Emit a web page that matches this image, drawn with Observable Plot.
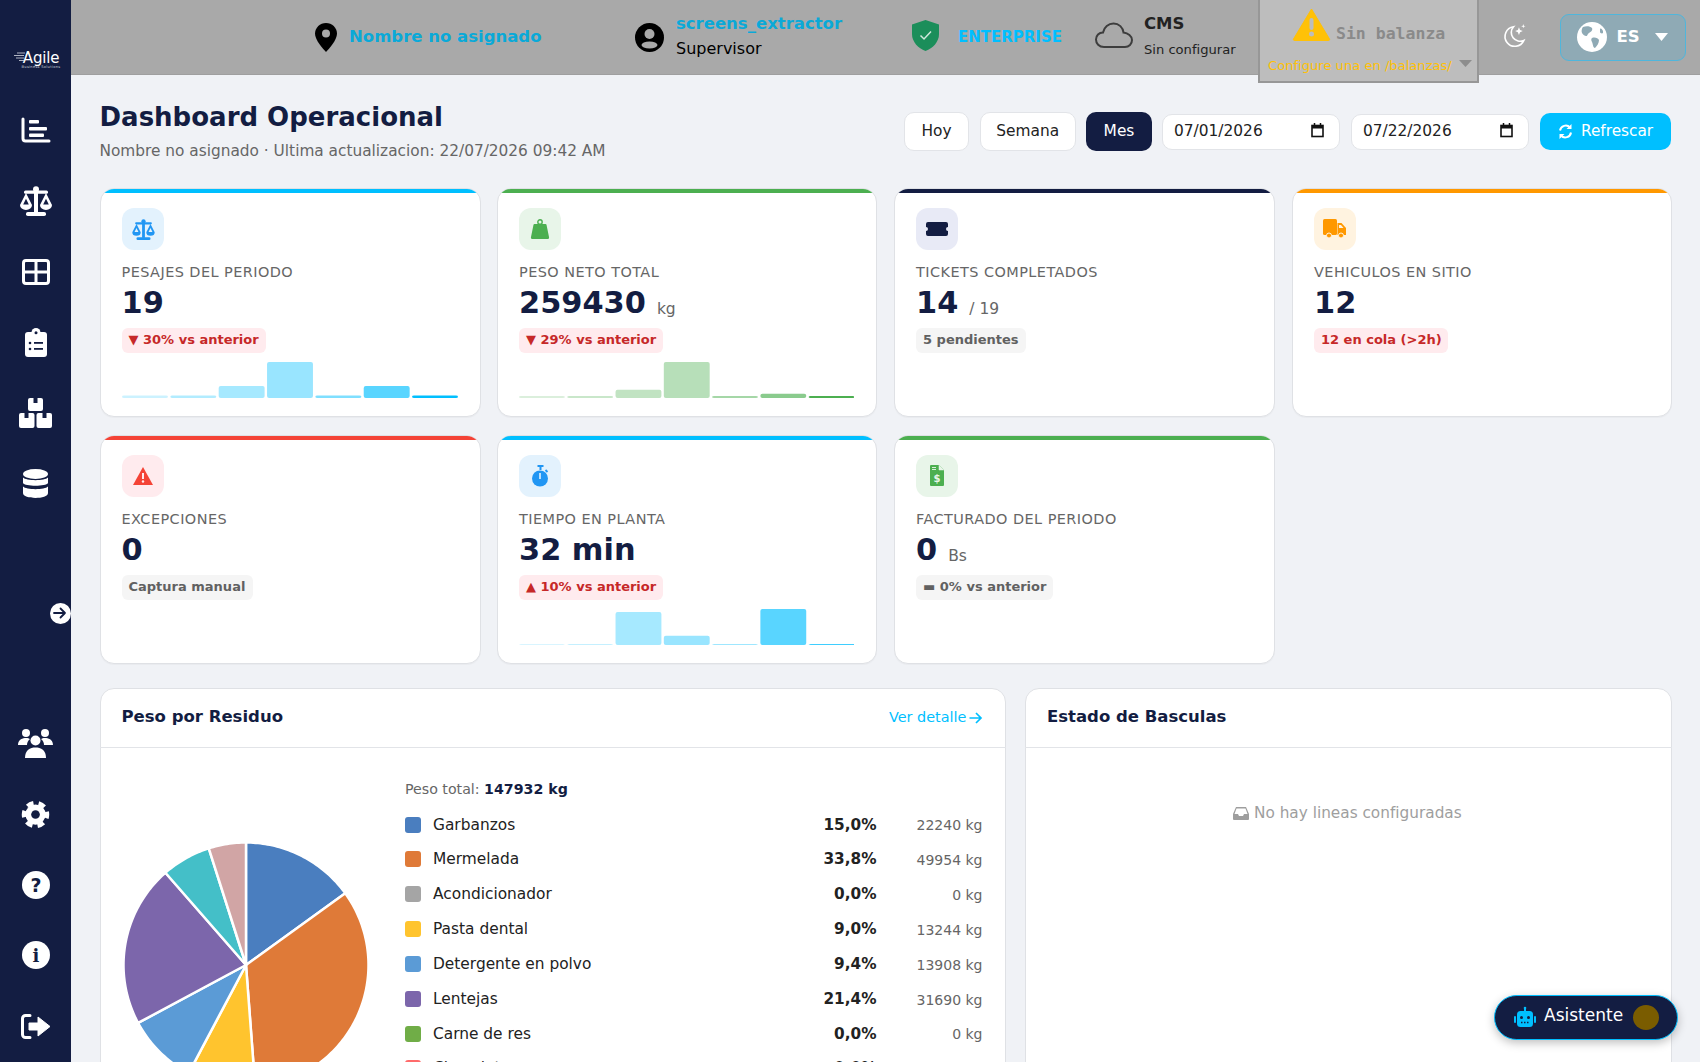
<!DOCTYPE html>
<html lang="es">
<head>
<meta charset="utf-8">
<title>Dashboard Operacional</title>
<script src="https://cdn.jsdelivr.net/npm/d3@7"></script>
<script src="https://cdn.jsdelivr.net/npm/@observablehq/plot@0.6"></script>
<style>
html,body{margin:0;padding:0;width:1700px;height:1062px;overflow:hidden;background:#f0f2f6;font-family:"DejaVu Sans",sans-serif;}
#app{position:relative;width:1700px;height:1062px;overflow:hidden;}
.box{position:absolute;box-sizing:border-box;}
.t{position:absolute;white-space:nowrap;line-height:1.2;transform:translateY(-50%);}
.t.r{transform:translate(-100%,-50%);}
.t.c{transform:translate(-50%,-50%);}
svg.i{position:absolute;overflow:visible;}
.chart{position:absolute;}
.chart svg{display:block;background:transparent;}
.card{position:absolute;box-sizing:border-box;background:#fff;border:1px solid #dfe1e5;border-radius:14px;overflow:hidden;box-shadow:0 1px 1px rgba(0,0,0,.03);}
.card .bar{position:absolute;left:0;right:0;top:0;height:4px;}
</style>
</head>
<body>
<div id="app"></div>
<script>
// ---------- data ----------
const residuos = ["Garbanzos","Mermelada","Acondicionador","Pasta dental","Detergente en polvo","Lentejas","Carne de res","Chocolate","Residuo 9","Residuo 10"];
const pesos = [22240,49954,0,13244,13908,31690,0,0,9630,7266];
const coloresResiduo = ["#4a7ebf","#df7a38","#a5a5a5","#ffc42e","#5b9bd6","#7c66ab","#70ad47","#ff6b6b","#44bfc8","#d1a5a5"];
const filasLeyenda = 8;
const pesoTotal = 147932;

const tarjetaTitulos = ["PESAJES DEL PERIODO","PESO NETO TOTAL","TICKETS COMPLETADOS","VEHICULOS EN SITIO","EXCEPCIONES","TIEMPO EN PLANTA","FACTURADO DEL PERIODO"];
const tarjetaValores = ["19","259430","14","12","0","32 min","0"];
const tarjetaUnidades = ["","kg","/ 19","","","","Bs"];
const tarjetaPills = ["▼ 30% vs anterior","▼ 29% vs anterior","5 pendientes","12 en cola (>2h)","Captura manual","▲ 10% vs anterior","▬ 0% vs anterior"];
const tarjetaPillTipo = ["bad","bad","neutral","bad","neutral","bad","neutral"];
const tarjetaColores = ["#00bfff","#4caf50","#131d42","#ff9800","#f44336","#00bfff","#4caf50"];
const tarjetaFondoIcono = ["#e3f2fd","#e8f5e9","#e8eaf6","#fff3e0","#ffebee","#e3f2fd","#e8f5e9"];
const tarjetaColorIcono = ["#2196f3","#4caf50","#131d42","#ff9800","#f44336","#2196f3","#4caf50"];

const sparkPesajes = [0.6,0.6,3,9,0.6,3,0.6];
const sparkPeso = [9000,9000,38000,165000,9000,20000,9000];
const sparkTiempo = [0.8,0.8,32,9,0.8,35,0.8];
const sparkOpacidad = [0.2,0.3,0.35,0.4,0.5,0.65,1];

// ---------- helpers ----------
const app = document.getElementById("app");
const NAVY = "#131d42";
function box(x,y,w,h,style){const d=document.createElement("div");d.className="box";d.style.cssText=`left:${x}px;top:${y}px;width:${w}px;height:${h}px;${style||""}`;app.appendChild(d);return d;}
function txt(s,x,cy,size,color,extra,cls){const d=document.createElement("div");d.className="t "+(cls||"");d.textContent=s;d.style.cssText=`left:${x}px;top:${cy}px;font-size:${size}px;color:${color};${extra||""}`;app.appendChild(d);return d;}
function ico(x,y,w,h,vb,markup){app.insertAdjacentHTML("beforeend",`<svg class="i" style="left:${x}px;top:${y}px" width="${w}" height="${h}" viewBox="${vb}">${markup}</svg>`);}

// icon drawings
const scaleIcon = (c,bg)=>`<rect x="14" y="2" width="4" height="25" fill="${c}"/><circle cx="16" cy="3.2" r="3" fill="${c}"/><rect x="4" y="4.5" width="24" height="3.2" rx="1.5" fill="${c}"/><rect x="6" y="26" width="20" height="4" rx="1.8" fill="${c}"/>
<path d="M0 19 L6 7 L12 19 A6 5 0 0 1 0 19Z M20 19 L26 7 L32 19 A6 5 0 0 1 20 19Z" fill="${c}"/><path d="M3.2 18.4 L6 12.8 L8.8 18.4Z M23.2 18.4 L26 12.8 L28.8 18.4Z" fill="${bg}"/>`;

// ---------- sidebar ----------
box(0,0,71,1062,`background:${NAVY};`);
txt("Agile",41,58,15,"#fff","transform:translate(-50%,-50%);letter-spacing:-.2px;");
txt("Business Solutions",41,67,3.6,"#c9cdd8","transform:translate(-50%,-50%);letter-spacing:.3px;");
ico(13,52,12,10,"0 0 12 10",`<path d="M4 1h8M1 3.5h10M3 6h8M6 8.5h5" stroke="#d8dbe5" stroke-width=".8"/>`);
ico(21,117,30,26,"0 0 30 26",`<path d="M2 2v19.5a2.5 2.5 0 0 0 2.5 2.5H28" fill="none" stroke="#fff" stroke-width="3" stroke-linecap="round"/><rect x="8" y="3" width="10" height="3.6" rx="1" fill="#fff"/><rect x="8" y="10" width="18" height="3.4" rx="1" fill="#fff"/><rect x="8" y="16.6" width="15" height="3.4" rx="1" fill="#fff"/>`);
ico(17.5,186,36,30,"0 0 32 30",scaleIcon("#fff",NAVY));
ico(22,259,28,26,"0 0 28 26",`<rect x="1.5" y="1.5" width="25" height="23" rx="2.5" fill="none" stroke="#fff" stroke-width="3"/><path d="M14 2v22M2 13h24" stroke="#fff" stroke-width="3"/>`);
ico(24.5,328,22,29,"0 0 22 29",`<rect x="0" y="4" width="22" height="25" rx="3" fill="#fff"/><circle cx="11" cy="4.5" r="4.5" fill="#fff"/><circle cx="11" cy="4.8" r="1.5" fill="${NAVY}"/><rect x="9" y="14" width="9" height="1.8" fill="${NAVY}"/><rect x="9" y="20" width="9" height="1.8" fill="${NAVY}"/><circle cx="5" cy="15" r="1.3" fill="${NAVY}"/><circle cx="5" cy="21" r="1.3" fill="${NAVY}"/>`);
ico(19,398,33,30,"0 0 33 30",`<rect x="9" y="0" width="15" height="13" rx="2" fill="#fff"/><rect x="0" y="15" width="15.5" height="15" rx="2" fill="#fff"/><rect x="17.5" y="15" width="15.5" height="15" rx="2" fill="#fff"/><rect x="14.5" y="0" width="4" height="5" fill="${NAVY}"/><rect x="5.5" y="15" width="4" height="5" fill="${NAVY}"/><rect x="23.5" y="15" width="4" height="5" fill="${NAVY}"/>`);
ico(23,469,25,29,"0 0 25 29",`<ellipse cx="12.5" cy="5" rx="12.5" ry="5" fill="#fff"/><path d="M0 8.5C3 12 22 12 25 8.5V14c-2 3.6-23 3.6-25 0Z" fill="#fff"/><path d="M0 17.5C3 21 22 21 25 17.5V24c0 6.6-25 6.6-25 0Z" fill="#fff"/>`);
box(49.5,602.5,21,21,"background:#fff;border-radius:50%;");
ico(53,606,14,14,"0 0 14 14",`<path d="M1 7h11M7.5 2.5 12 7l-4.5 4.5" fill="none" stroke="${NAVY}" stroke-width="1.8" stroke-linecap="round" stroke-linejoin="round"/>`);
ico(18,729,35,29,"0 0 35 29",`<circle cx="8" cy="4" r="4" fill="#fff"/><circle cx="27" cy="4" r="4" fill="#fff"/><path d="M0 16c0-6 5-7 8-7 2 0 3 .5 4 1-2 1.5-3 3.5-3 6Z M35 16c0-6-5-7-8-7-2 0-3 .5-4 1 2 1.5 3 3.5 3 6Z" fill="#fff"/><circle cx="17.5" cy="11.5" r="5" fill="#fff"/><path d="M7 29c0-8 5-10.5 10.5-10.5S28 21 28 29Z" fill="#fff"/>`);
ico(22,800,27,29,"-14 -15 28 30",`<circle r="10.5" fill="#fff"/><circle r="12" fill="none" stroke="#fff" stroke-width="4.5" stroke-dasharray="7 5.5" stroke-dashoffset="3"/><circle r="4.5" fill="${NAVY}"/>`);
ico(21.5,871,28,28,"0 0 28 28",`<circle cx="14" cy="14" r="14" fill="#fff"/><text x="14" y="20.5" text-anchor="middle" font-size="19" font-weight="900" font-family="DejaVu Sans" fill="${NAVY}">?</text>`);
ico(21.5,941,28,28,"0 0 28 28",`<circle cx="14" cy="14" r="14" fill="#fff"/><text x="14" y="20.5" text-anchor="middle" font-size="18" font-weight="900" font-family="DejaVu Serif" fill="${NAVY}">i</text>`);
ico(21,1014,29,25,"0 0 29 25",`<path d="M9 1.5H4.5a3 3 0 0 0-3 3v16a3 3 0 0 0 3 3H9" fill="none" stroke="#fff" stroke-width="3" stroke-linecap="round"/><path d="M8 9h9V3l12 9.5L17 22v-6H8Z" fill="#fff" stroke="#fff" stroke-width="1" stroke-linejoin="round"/>`);

// ---------- top bar ----------
box(71,0,1629,75,"background:#a9a9a9;border-bottom:1px solid #9f9f9f;");
ico(315,23,22,29,"0 0 22 29",`<path d="M11 0C5 0 0 4.8 0 10.5 0 17 8 26 11 29c3-3 11-12 11-18.5C22 4.8 17 0 11 0Z" fill="#000"/><circle cx="11" cy="10.5" r="4" fill="#a9a9a9"/>`);
txt("Nombre no asignado",349,36.5,16.5,"#0aa9d8","font-weight:700;");
ico(635,23,29,29,"0 0 29 29",`<circle cx="14.5" cy="14.5" r="14.5" fill="#000"/><circle cx="14.5" cy="11" r="5" fill="#a9a9a9"/><ellipse cx="14.5" cy="22" rx="8" ry="3.5" fill="#a9a9a9"/>`);
txt("screens_extractor",676,24,16.5,"#0aa9d8","font-weight:700;");
txt("Supervisor",676,49,16,"#000");
ico(912,20,27,31,"0 0 27 31",`<path d="M13.5 0 27 4.5V14c0 8-6 14-13.5 17C6 28 0 22 0 14V4.5Z" fill="#1b8e5a"/><path d="M8.5 15.5l3.5 3.5 7-7.5" fill="none" stroke="#cfe8dc" stroke-width="1.5"/>`);
txt("ENTERPRISE",958,37,15,"#00bfff","font-weight:700;");
ico(1095,22,38,26,"0 0 38 26",`<path d="M9 25C4 25 1 21.5 1 17.5 1 13.5 4 10.5 8 10.5 9 5 13.5 1.5 18.5 1.5c5.5 0 9.5 4 10 9 4.5.5 8.5 3.5 8.5 7.5 0 4-3 7-7 7Z" fill="none" stroke="#3d3d3d" stroke-width="2"/>`);
txt("CMS",1144,24,16.5,"#222","font-weight:700;");
txt("Sin configurar",1144,49.5,13.1,"#222");
box(1258,-4,221,87,"background:#bdbdbd;border:2px solid #979797;");
ico(1293,8,37,33,"0 0 37 33",`<path d="M18.5 1 36.5 31a1 1 0 0 1-1 1.5H1.5a1 1 0 0 1-1-1.5Z" fill="#ffc107" stroke="#ffc107" stroke-linejoin="round"/><rect x="16.5" y="10" width="4" height="12" rx="2" fill="#bdbdbd"/><circle cx="18.5" cy="26" r="2.5" fill="#bdbdbd"/>`);
txt("Sin balanza",1336,34,16.5,"#8a8a8a","font-family:'DejaVu Sans Mono',monospace;font-weight:700;");
txt("Configure una en /balanzas/",1268,66,13.1,"#ffc107");
ico(1459,60,13,7,"0 0 13 7",`<path d="M0 0h13L6.5 7Z" fill="#8d8d8d"/>`);
ico(1501,24,25,24,"0 0 22 22",`<path d="M11 2.5A9 9 0 1 0 20.5 15 8 8 0 0 1 11 2.5Z" fill="none" stroke="#fff" stroke-width="1.5"/><path d="M16 3l1 2.5L19.5 6.5 17 7.5 16 10 15 7.5 12.5 6.5 15 5.5Z M20 0l.5 1.5L22 2 20.5 2.5 20 4 19.5 2.5 18 2 19.5 1.5Z" fill="#fff"/>`);
box(1560,14,126,47,"background:#8faab5;border:1.5px solid #4fb6dc;border-radius:9px;");
ico(1577,22,30,30,"0 0 30 30",`<circle cx="15" cy="15" r="15" fill="#fff"/><path d="M6 5c3-1 7-1 9 1 1 2-1 4-3 5-2 1-1 3-3 3-1 0-3-1-4-3-1-2 0-5 1-6Z M15 16c3-1 6 0 7 2 0 3-2 6-4 8-2 0-2-4-3-6-1-2-1-3 0-4Z M23 7c1-1 2 0 3 2v2c-1 1-3 0-3-1Z" fill="#8faab5"/>`);
txt("ES",1616.5,37,16.5,"#fff","font-weight:700;");
ico(1655,33,13,8,"0 0 13 8",`<path d="M0 0h13L6.5 8Z" fill="#fff"/>`);

// ---------- heading and toolbar ----------
txt("Dashboard Operacional",99.5,118,26,NAVY,"font-weight:700;");
txt("Nombre no asignado · Ultima actualizacion: 22/07/2026 09:42 AM",99.5,150.5,15.35,"#666");
const btn = "border:1px solid #e2e4e8;border-radius:10px;background:#fff;";
box(904,112,65,38.5,btn); txt("Hoy",936.5,131,15.4,"#222","","c");
box(979.5,112,96.5,38.5,btn); txt("Semana",1027.7,131,15.4,"#222","","c");
box(1086,112,66,38.5,`background:${NAVY};border-radius:10px;`); txt("Mes",1119,131,15.4,"#fff","","c");
const calIcon = `<rect x="1" y="2.5" width="11" height="11" fill="none" stroke="#111" stroke-width="1.6"/><rect x="1" y="2.5" width="11" height="3" fill="#111"/><path d="M3.5 0v3M9.5 0v3" stroke="#111" stroke-width="1.5"/>`;
box(1162,113.5,178,36,btn); txt("07/01/2026",1174,130.5,15.4,"#222");
ico(1311,123,13,14,"0 0 13 14",calIcon);
box(1351,113.5,178,36,btn); txt("07/22/2026",1363,130.5,15.4,"#222");
ico(1500,123,13,14,"0 0 13 14",calIcon);
box(1540,113,131,37,"background:#00bfff;border-radius:10px;");
ico(1558,124,15,15,"0 0 15 15",`<path d="M2 6.5A5.8 5.8 0 0 1 12 3.5M13 8.5A5.8 5.8 0 0 1 3 11.5" fill="none" stroke="#fff" stroke-width="2"/><path d="M13.5 0v5h-5ZM1.5 15v-5h5Z" fill="#fff"/>`);
txt("Refrescar",1581,130.5,15.3,"#fff");

// ---------- KPI cards ----------
const cardX = [99.5,497,894,1292], cardW = [381,379.5,381,380];
const tileIcons = [
  (c,b)=>`<svg class="i" style="left:10px;top:11px" width="23" height="21" viewBox="0 0 32 30">${scaleIcon(c,b)}</svg>`,
  (c)=>`<svg class="i" style="left:11px;top:11px" width="20" height="20" viewBox="0 0 20 20"><circle cx="10" cy="3" r="2.2" fill="none" stroke="${c}" stroke-width="1.4"/><path d="M4.5 5h11a1 1 0 0 1 1 .8L19 18a1.5 1.5 0 0 1-1.5 2h-15A1.5 1.5 0 0 1 1 18L3.5 5.8a1 1 0 0 1 1-.8Z" fill="${c}"/></svg>`,
  (c)=>`<svg class="i" style="left:10px;top:14px" width="22" height="14" viewBox="0 0 22 14"><path d="M2 0h18a2 2 0 0 1 2 2v3a2 2 0 0 0 0 4v3a2 2 0 0 1-2 2H2a2 2 0 0 1-2-2V9a2 2 0 0 0 0-4V2a2 2 0 0 1 2-2Z" fill="${c}"/></svg>`,
  (c)=>`<svg class="i" style="left:9px;top:11px" width="24" height="20" viewBox="0 0 24 20"><rect x="0" y="0" width="14" height="16" rx="1.5" fill="${c}"/><path d="M14.5 4h4l4.5 5v7h-8.5Z" fill="${c}"/><path d="M16 6h2l2.5 3H16Z" fill="#fff3e0"/><circle cx="6" cy="16.5" r="2.5" fill="${c}" stroke="#fff3e0"/><circle cx="18" cy="16.5" r="2.5" fill="${c}" stroke="#fff3e0"/></svg>`,
  (c,b)=>`<svg class="i" style="left:11px;top:12px" width="20" height="18" viewBox="0 0 20 18"><path d="M10 0 20 18H0Z" fill="${c}"/><rect x="9" y="6" width="2" height="6" fill="${b}"/><circle cx="10" cy="14.5" r="1.2" fill="${b}"/></svg>`,
  (c,b)=>`<svg class="i" style="left:13px;top:10px" width="17" height="22" viewBox="0 0 17 22"><rect x="5.5" y="0" width="6" height="2" fill="${c}"/><rect x="7.5" y="1" width="2" height="4" fill="${c}"/><path d="M13.5 5l2 2" stroke="${c}" stroke-width="1.8"/><circle cx="8" cy="13.5" r="8" fill="${c}"/><rect x="7.2" y="8" width="1.6" height="6" fill="${b}"/></svg>`,
  (c,b)=>`<svg class="i" style="left:14px;top:10px" width="14" height="21" viewBox="0 0 14 21"><path d="M0 1a1 1 0 0 1 1-1h8l5 5v15a1 1 0 0 1-1 1H1a1 1 0 0 1-1-1Z" fill="${c}"/><path d="M9 0v5h5" fill="${b}" stroke="${b}" stroke-width=".5"/><rect x="2" y="2" width="4" height=".9" fill="${b}"/><rect x="2" y="4" width="4" height=".9" fill="${b}"/><text x="7" y="16.5" text-anchor="middle" font-size="10" font-weight="700" font-family="DejaVu Sans" fill="${b}">$</text></svg>`
];
const pillWidth = [144,144,110,134,131,144,137];
tarjetaTitulos.forEach((titulo,i)=>{
  const col = i<4 ? i : i-4, x = cardX[col], y = i<4 ? 187.5 : 434.8;
  const card = box(x,y,cardW[col],229,"");
  card.className = "card";
  card.innerHTML = `<div class="bar" style="background:${tarjetaColores[i]}"></div>`;
  const tile = box(x+22,y+20.5,42,42,`background:${tarjetaFondoIcono[i]};border-radius:12px;`);
  tile.innerHTML = tileIcons[i](tarjetaColorIcono[i],tarjetaFondoIcono[i]);
  txt(titulo,x+22,y+85.5,14.45,"#666","letter-spacing:.45px;");
  const v = txt(tarjetaValores[i],x+22,y+115,30.4,NAVY,"font-weight:700;");
  if (tarjetaUnidades[i]) {
    const vw = v.getBoundingClientRect().width;
    txt(tarjetaUnidades[i],x+22+vw+11,y+121,15.5,"#666");
  }
  const bad = tarjetaPillTipo[i]==="bad";
  box(x+22,y+140.5,pillWidth[i],25,`background:${bad?"#ffebee":"#f5f5f5"};border-radius:6px;`);
  txt(tarjetaPills[i],x+29,y+152,13,bad?"#c62828":"#616161","font-weight:700;");
});

// ---------- sparklines with Plot ----------
function spark(values,color,x,y,w){
  const data = values.map((v,i)=>({i,v,o:sparkOpacidad[i]}));
  const p = Plot.plot({
    width:w,height:36,margin:0,
    x:{type:"band",domain:d3.range(values.length),paddingInner:0.05,paddingOuter:0,round:false,axis:null},
    y:{domain:[0,d3.max(values)],axis:null},
    opacity:{type:"identity"},
    marks:[Plot.barY(data,{x:"i",y:"v",fill:color,fillOpacity:"o",rx:2})]
  });
  const d = document.createElement("div");d.className="chart";d.style.cssText=`left:${x}px;top:${y}px;`;d.appendChild(p);app.appendChild(d);
}
spark(sparkPesajes,"#00bfff",121.5,362,336);
spark(sparkPeso,"#4caf50",518.8,362,335.5);
spark(sparkTiempo,"#00bfff",518.8,608.7,335.5);

// ---------- panels ----------
const panel = "background:#fff;border:1px solid #dfe1e5;border-radius:14px;";
box(99.5,688,906,420,panel);
box(99.5,747,906,1,"background:#e2e4e8;");
txt("Peso por Residuo",121.5,716.8,16.5,NAVY,"font-weight:700;");
txt("Ver detalle",889,718,14.4,"#00bfff");
ico(969,712,13,12,"0 0 13 12",`<path d="M.5 6h11M7 1l5 5-5 5" fill="none" stroke="#00bfff" stroke-width="1.7"/>`);
box(1025,688,646.5,420,panel);
box(1025,747,646.5,1,"background:#e2e4e8;");
txt("Estado de Basculas",1047,716.8,16.5,NAVY,"font-weight:700;");
ico(1233,806,16,14,"0 0 16 14",`<path d="M3 1h10l3 7v5a1 1 0 0 1-1 1H1a1 1 0 0 1-1-1V8Z" fill="#9e9e9e"/><path d="M3.5 2.5h9L14.5 8H11l-1 2H6L5 8H1.5Z" fill="#fff"/>`);
txt("No hay lineas configuradas",1254,813,15.3,"#9e9e9e");

// ---------- pie with Plot ----------
const slices = d3.pie().sort(null).value(d=>d.peso)(residuos.map((name,i)=>({name,peso:pesos[i]})));
const puntos = slices.filter(s=>s.value>0).flatMap(s=>{
  const n = Math.max(2,Math.ceil((s.endAngle-s.startAngle)/0.02));
  const arco = d3.range(n+1).map(k=>s.startAngle+(s.endAngle-s.startAngle)*k/n);
  return [{name:s.data.name,a:null},...arco.map(a=>({name:s.data.name,a}))];
});
const piePlot = Plot.plot({
  width:249,height:249,margin:2,
  x:{domain:[-1,1],axis:null},
  y:{domain:[-1,1],axis:null},
  color:{domain:residuos,range:coloresResiduo},
  marks:[Plot.line(puntos,{
    x:d=>d.a===null?0:Math.sin(d.a),
    y:d=>d.a===null?0:Math.cos(d.a),
    z:"name",fill:"name",stroke:"#fff",strokeWidth:2.5,curve:"linear-closed"
  })]
});
{const d=document.createElement("div");d.className="chart";d.style.cssText="left:120.7px;top:839.5px;";d.appendChild(piePlot);app.appendChild(d);}

// ---------- legend ----------
const nf = new Intl.NumberFormat("es-ES",{minimumFractionDigits:1,maximumFractionDigits:1});
const pt = txt("Peso total: ",405,789.7,14.2,"#666");
pt.insertAdjacentHTML("beforeend",`<b style="color:${NAVY}">${pesoTotal} kg</b>`);
residuos.slice(0,filasLeyenda).forEach((name,i)=>{
  const cy = 824.5+i*34.85;
  box(405,cy-8,16,16,`background:${coloresResiduo[i]};border-radius:3px;`);
  txt(name,433,cy,15.4,"#222");
  txt(nf.format(pesos[i]/pesoTotal*100)+"%",876.5,cy,15.3,"#222","font-weight:700;","r");
  txt(pesos[i]+" kg",982.5,cy+.8,14,"#666","","r");
});

// ---------- assistant button ----------
box(1494,994.5,184,45.5,`background:${NAVY};border:1.5px solid #00bfff;border-radius:23px;box-shadow:0 3px 10px rgba(0,0,0,.25);`);
ico(1514,1007,22,20,"0 0 22 20",`<rect x="3" y="4" width="16" height="16" rx="3.5" fill="#00bfff"/><rect x="10" y="0" width="2" height="4" fill="#00bfff"/><circle cx="11" cy="1" r="1.3" fill="#00bfff"/><rect x="0" y="9" width="2" height="7" rx="1" fill="#00bfff"/><rect x="20" y="9" width="2" height="7" rx="1" fill="#00bfff"/><circle cx="7.5" cy="10.5" r="1.5" fill="${NAVY}"/><circle cx="14.5" cy="10.5" r="1.5" fill="${NAVY}"/><path d="M7 15.5h8" stroke="${NAVY}" stroke-width="1.5" stroke-dasharray="1.5 1.5"/>`);
txt("Asistente",1544,1014.5,17,"#fff");
box(1633,1005,26,25,"background:#7a5c00;border-radius:50%;");
</script>
</body>
</html>
